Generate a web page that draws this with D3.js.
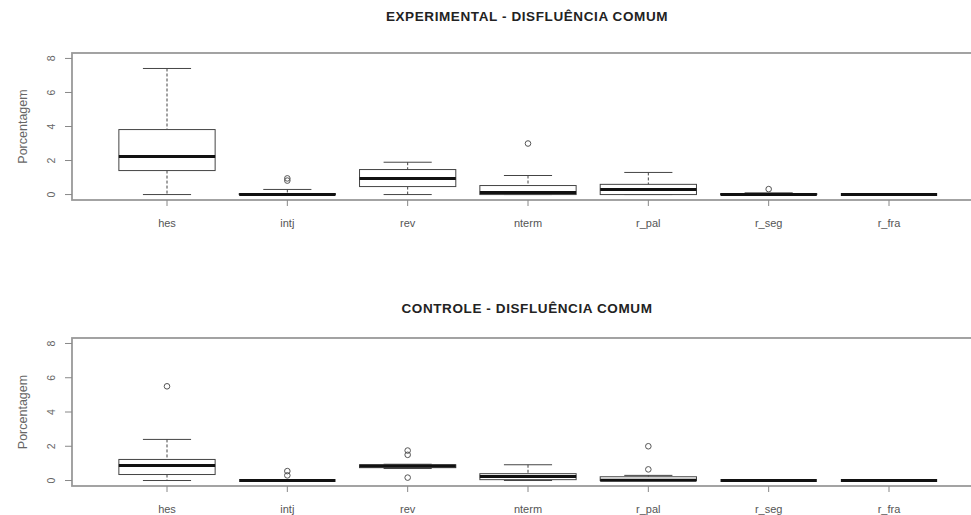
<!DOCTYPE html>
<html>
<head>
<meta charset="utf-8">
<script src="https://cdn.jsdelivr.net/npm/d3@7"></script>
<style>
  body { margin: 0; background: #fff; }
  svg { display: block; font-family: "Liberation Sans", Arial, sans-serif; }
</style>
</head>
<body>
<div id="chart"></div>
<script>
// categories
const categories = ['hes', 'intj', 'rev', 'nterm', 'r_pal', 'r_seg', 'r_fra'];
const yTicks = [0, 2, 4, 6, 8];

// experimental panel (box stats per category)
const expLow = [0, 0, 0, 0, 0, 0, 0];
const expQ1 = [1.41, 0, 0.47, 0, 0, 0, 0];
const expMed = [2.24, 0, 0.94, 0.12, 0.3, 0, 0];
const expQ3 = [3.82, 0.05, 1.47, 0.53, 0.6, 0.05, 0];
const expHigh = [7.41, 0.3, 1.9, 1.12, 1.3, 0.1, 0];
const expOut = [[], [0.82, 0.95], [], [3.0], [], [0.32], []];

// controle panel
const ctlLow = [0, 0, 0.7, 0, 0, 0, 0];
const ctlQ1 = [0.35, 0, 0.75, 0.05, 0, 0, 0];
const ctlMed = [0.88, 0, 0.85, 0.23, 0.02, 0, 0];
const ctlQ3 = [1.23, 0, 0.92, 0.4, 0.22, 0, 0];
const ctlHigh = [2.4, 0, 0.95, 0.92, 0.3, 0, 0];
const ctlOut = [[5.5], [0.3, 0.55], [0.17, 1.5, 1.75], [], [0.65, 2.0], [], []];

const W = 971, H = 515;
const svg = d3.select('#chart').append('svg').attr('width', W).attr('height', H);

const x = d3.scaleLinear().domain([1, 7]).range([167, 889]);
const boxW = (x(2) - x(1)) * 0.8;

function panel(title, titleY, top, bottom, low, q1, med, q3, high, out) {
  // ylim c(0,8) with 4% extension
  const y = d3.scaleLinear().domain([-0.32, 8.32]).range([bottom, top]);
  const g = svg.append('g');
  const left = 72, right = 980;

  g.append('text').attr('x', 527).attr('y', titleY).attr('text-anchor', 'middle')
    .attr('font-size', 13.5).attr('font-weight', 'bold').attr('fill', '#222')
    .attr('letter-spacing', 0.6)
    .text(title);

  // frame
  g.append('rect').attr('x', left).attr('y', top).attr('width', right - left).attr('height', bottom - top)
    .attr('fill', 'none').attr('stroke', '#999').attr('stroke-width', 1.8);

  // y axis
  const ya = g.append('g');
  yTicks.forEach(t => {
    ya.append('line').attr('x1', left - 7).attr('x2', left).attr('y1', y(t)).attr('y2', y(t))
      .attr('stroke', '#888');
    ya.append('text').attr('transform', `translate(${left - 17},${y(t)}) rotate(-90)`)
      .attr('text-anchor', 'middle').attr('font-size', 10.5).attr('fill', '#666').text(t);
  });
  ya.append('text').attr('transform', `translate(27,${(top + bottom) / 2}) rotate(-90)`)
    .attr('text-anchor', 'middle').attr('font-size', 12.5).attr('fill', '#666').text('Porcentagem');

  // x axis ticks + labels
  categories.forEach((c, i) => {
    g.append('line').attr('x1', x(i + 1)).attr('x2', x(i + 1)).attr('y1', bottom).attr('y2', bottom + 6)
      .attr('stroke', '#888');
    g.append('text').attr('x', x(i + 1)).attr('y', bottom + 27).attr('text-anchor', 'middle')
      .attr('font-size', 11).attr('fill', '#555').text(c);
  });

  // boxes
  const boxes = g.selectAll('g.box').data(categories).enter().append('g').attr('class', 'box');
  boxes.each(function (c, i) {
    const b = d3.select(this);
    const cx = x(i + 1);
    // whiskers (dashed)
    b.append('line').attr('x1', cx).attr('x2', cx).attr('y1', y(high[i])).attr('y2', y(q3[i]))
      .attr('stroke', '#444').attr('stroke-dasharray', '3,2');
    b.append('line').attr('x1', cx).attr('x2', cx).attr('y1', y(q1[i])).attr('y2', y(low[i]))
      .attr('stroke', '#444').attr('stroke-dasharray', '3,2');
    // staples
    [high[i], low[i]].forEach(v => {
      b.append('line').attr('x1', cx - boxW / 4).attr('x2', cx + boxW / 4).attr('y1', y(v)).attr('y2', y(v))
        .attr('stroke', '#444');
    });
    b.append('rect').attr('x', cx - boxW / 2).attr('width', boxW)
      .attr('y', y(q3[i])).attr('height', y(q1[i]) - y(q3[i]))
      .attr('fill', '#fff').attr('stroke', '#444');
    b.append('line').attr('x1', cx - boxW / 2).attr('x2', cx + boxW / 2).attr('y1', y(med[i])).attr('y2', y(med[i]))
      .attr('stroke', '#111').attr('stroke-width', 3);
    out[i].forEach(v => {
      b.append('circle').attr('cx', cx).attr('cy', y(v)).attr('r', 2.8)
        .attr('fill', 'none').attr('stroke', '#555');
    });
  });
}

panel('EXPERIMENTAL - DISFLUÊNCIA COMUM', 21, 53, 200, expLow, expQ1, expMed, expQ3, expHigh, expOut);
panel('CONTROLE - DISFLUÊNCIA COMUM', 313, 338, 486, ctlLow, ctlQ1, ctlMed, ctlQ3, ctlHigh, ctlOut);
</script>
</body>
</html>
